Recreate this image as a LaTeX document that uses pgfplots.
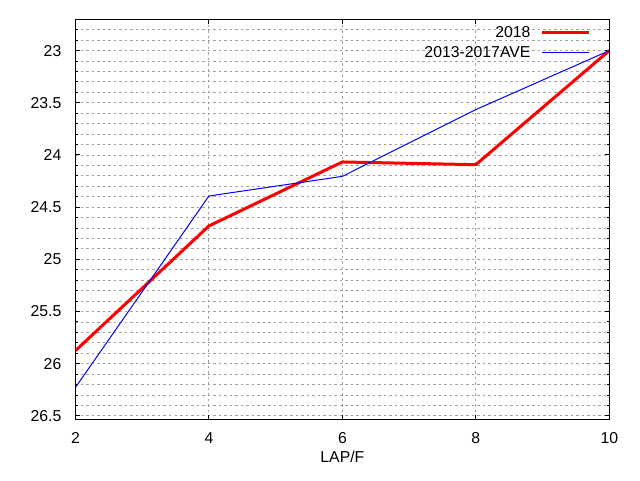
\documentclass[border=0pt]{standalone}
\usepackage{pgfplots}
\pgfplotsset{compat=1.18}
\usepackage{fontspec}
\setmainfont{Liberation Sans}
\definecolor{gridgray}{RGB}{160,160,160}
\begin{document}
\begin{tikzpicture}
\useasboundingbox (-75.5pt,-61pt) rectangle (564.5pt,419pt);
\begin{axis}[
  scale only axis,
  width=533.8pt, height=399.7pt,
  xmin=2, xmax=10, ymin=22.7, ymax=26.53,
  y dir=reverse,
  xtick={2,4,6,8,10},
  ytick={23,23.5,24,24.5,25,25.5,26,26.5},
  minor ytick={22.8,22.9,...,26.5},
  axis line style={line width=1pt},
  tick style={black, line width=1pt},
  major tick length=4.5pt, minor tick length=2.5pt,
  tick align=inside,
  xmajorgrids, ymajorgrids, yminorgrids,
  major grid style={gridgray, line width=0.9pt, dash pattern=on 2.5pt off 3pt},
  minor grid style={gridgray, line width=0.9pt, dash pattern=on 2.5pt off 3pt},
  /pgf/number format/assume math mode=true,
  tick label style={font=\fontsize{15.8}{18}\selectfont, inner sep=0pt},
  yticklabel style={anchor=east, xshift=-14pt},
  xticklabel style={anchor=north, yshift=-13.5pt},
  xlabel={LAP/F},
  xlabel style={font=\fontsize{15.8}{18}\selectfont, inner sep=0pt, anchor=north, at={(axis description cs:0.5,0)}, yshift=-32pt},
  legend plot pos=right,
  legend cell align=right,
  legend image code/.code={\draw[#1] (0pt,0pt) -- (47pt,0pt);},
  legend style={draw=none, fill=none, inner sep=0pt, font=\fontsize{15.8}{18}\selectfont,
    nodes={inner sep=0pt}, row sep=8pt, column sep=10pt,
    anchor=north east, at={(axis description cs:1,1)}, xshift=-18.6pt, yshift=-6.5pt},
]
\addplot[color=red, line width=3pt] coordinates {(2,25.875) (4,24.68) (6,24.067) (8,24.093) (10,23.0)};
\addlegendentry{2018}
\addplot[color=blue, line width=1pt] coordinates {(2,26.227) (4,24.393) (6,24.205) (8,23.565) (10,23.0)};
\addlegendentry{2013-2017AVE}
\end{axis}
\end{tikzpicture}
\end{document}
